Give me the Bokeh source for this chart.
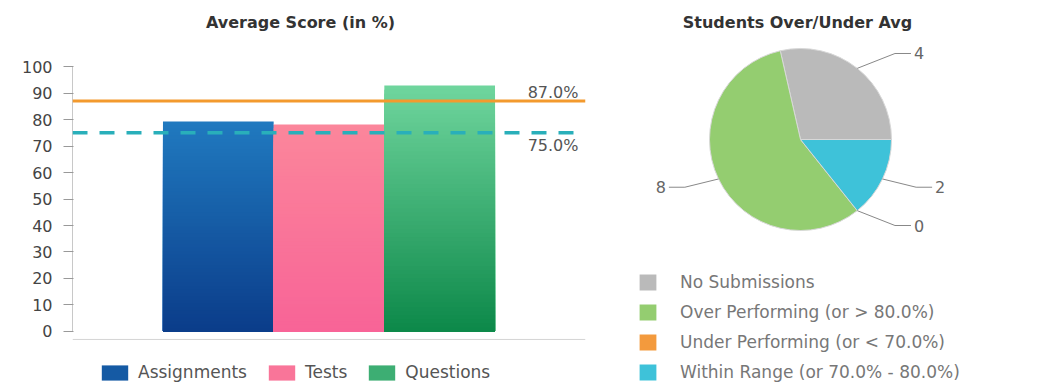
import numpy as np
from bokeh.plotting import figure
from bokeh.models import (ColumnDataSource, FactorRange, Range1d, Span, Label,
                          Legend, LegendItem, FixedTicker)
from bokeh.layouts import row
from bokeh.embed import file_html
from bokeh.resources import INLINE
from bokeh.core.properties import value

# ---------------- data ----------------
categories = ["Assignments", "Tests", "Questions"]
avg_scores = [79.2, 78.1, 92.8]
bar_top_colors = ["#2079bf", "#fb869b", "#6fd59d"]
bar_bottom_colors = ["#0b3d8a", "#f86497", "#0d894a"]
upper_line = 87.0
lower_line = 75.0
y_ticks = [0, 10, 20, 30, 40, 50, 60, 70, 80, 90, 100]

pie_labels = ["No Submissions", "Over Performing (or > 80.0%)",
              "Under Performing (or < 70.0%)", "Within Range (or 70.0% - 80.0%)"]
pie_counts = [4, 8, 0, 2]
pie_colors = ["#bababa", "#94cd70", "#f39a3d", "#3ec2d9"]

FONT = "DejaVu Sans"


def hex2rgb(h):
    return tuple(int(h[i:i + 2], 16) for i in (1, 3, 5))


def mix(c1, c2, t):
    a, b = hex2rgb(c1), hex2rgb(c2)
    return "#%02x%02x%02x" % tuple(int(round(a[i] + (b[i] - a[i]) * t)) for i in range(3))


# ---------------- bar chart ----------------
p = figure(width=608, height=389,
           x_range=FactorRange(factors=categories, range_padding=0.545,
                               range_padding_units="percent"),
           y_range=Range1d(-21.887, 124.906),
           output_backend="svg", toolbar_location=None,
           x_axis_location=None, title_location=None,
           min_border_left=72, min_border_right=23, min_border_top=0,
           min_border_bottom=0, outline_line_color=None)
p.xgrid.visible = False
p.ygrid.visible = False

N = 60
legend_items = []
for cat, score, ct, cb in zip(categories, avg_scores, bar_top_colors, bar_bottom_colors):
    k = np.arange(N)
    # layered bars: tallest first (top colour), shorter ones painted over it
    src = ColumnDataSource(dict(
        x=[cat] * N,
        top=score * (N - k) / N,
        color=[mix(ct, cb, i / (N - 1)) for i in k],
    ))
    r = p.vbar(x="x", bottom=0, top="top", width=1.0, fill_color="color",
               line_color=None, source=src)
    legend_items.append(LegendItem(label=cat, renderers=[r], index=N // 2))

# baseline (x axis line)
p.add_layout(Span(location=-3.0, dimension="width", line_color="#d4d4d4", line_width=1))

p.add_layout(Span(location=upper_line, dimension="width", line_color="#f39a2e",
                  line_width=3))
p.add_layout(Span(location=lower_line, dimension="width", line_color="#29afba",
                  line_width=3.5, line_dash="15 12"))

p.add_layout(Label(x=506, x_units="screen", y=upper_line, text=f"{upper_line:.1f}%",
                   text_align="right", text_baseline="alphabetic", y_offset=8,
                   text_font=FONT, text_font_size="16px", text_color="#555555"))
p.add_layout(Label(x=506, x_units="screen", y=lower_line, text=f"{lower_line:.1f}%",
                   text_align="right", text_baseline="alphabetic", y_offset=-13,
                   text_font=FONT, text_font_size="16px", text_color="#555555"))

p.add_layout(Label(x=228, y=367, x_units="screen", y_units="screen",
                   text="Average Score (in %)", text_align="center",
                   text_baseline="middle", text_font=FONT, text_font_style="bold",
                   text_font_size="16px", text_color="#333333"))

p.yaxis.ticker = FixedTicker(ticks=y_ticks)
p.yaxis.bounds = (0, 100)
p.yaxis.axis_line_color = "#c8c8c8"
p.yaxis.major_tick_line_color = "#999999"
p.yaxis.major_tick_in = 1
p.yaxis.major_tick_out = 9
p.yaxis.minor_tick_line_color = None
p.yaxis.major_label_standoff = 11
p.yaxis.major_label_text_font = FONT
p.yaxis.major_label_text_font_size = "16px"
p.yaxis.major_label_text_color = "#444444"

leg = Legend(items=legend_items, orientation="horizontal", location=(26, 7),
             glyph_width=33, glyph_height=19, label_height=19, label_standoff=7,
             spacing=18, padding=0, margin=0, border_line_color=None,
             background_fill_alpha=0, label_text_font=FONT,
             label_text_font_size="17px", label_text_color="#555555")
p.add_layout(leg)

# ---------------- pie chart ----------------
q = figure(width=452, height=389, x_range=Range1d(0, 452), y_range=Range1d(0, 389),
           output_backend="svg", toolbar_location=None,
           x_axis_location=None, y_axis_location=None, title_location=None,
           min_border=0, outline_line_color=None)
q.grid.visible = False

cx, cy, R = 192, 250, 91
counts = np.array(pie_counts, dtype=float)
fracs = counts / counts.sum() * 2 * np.pi
ends = np.cumsum(fracs)
starts = ends - fracs
nz = counts > 0
wsrc = ColumnDataSource(dict(start=starts[nz], end=ends[nz],
                             color=[c for c, k in zip(pie_colors, nz) if k]))
q.wedge(x=cx, y=cy, radius=R, start_angle="start", end_angle="end",
        fill_color="color", line_color="#d8d8d8", line_width=1, source=wsrc)

# legend swatches (no position on the chart)
lsrc = ColumnDataSource(dict(x=[np.nan] * len(pie_labels), y=[np.nan] * len(pie_labels),
                             color=pie_colors))
lr = q.rect(x="x", y="y", width=1, height=1, fill_color="color", line_color=None,
            source=lsrc)

mids = (starts + ends) / 2
xs, ys = [], []
rx, ry, rt, lx, ly, lt = [], [], [], [], [], []
for a, c in zip(mids, pie_counts):
    x0, y0 = cx + R * np.cos(a), cy + R * np.sin(a)
    ly_ = cy + 110 * np.sin(a)
    side = 1 if np.cos(a) >= 0 else -1
    xe = cx + side * np.sqrt(140 ** 2 - (110 * np.sin(a)) ** 2)
    xm = xe - side * 16
    xs.append([x0, xm, xe])
    ys.append([y0, ly_, ly_])
    if side > 0:
        rx.append(xe + 3); ry.append(ly_); rt.append(str(c))
    else:
        lx.append(xe - 3); ly.append(ly_); lt.append(str(c))

q.multi_line(xs=xs, ys=ys, line_color="#888888", line_width=1)
q.text(x=rx, y=ry, text=rt, text_align="left", text_baseline="middle",
       text_font=value(FONT), text_font_size="16px", text_color="#666666")
q.text(x=lx, y=ly, text=lt, text_align="right", text_baseline="middle",
       text_font=value(FONT), text_font_size="16px", text_color="#666666")

q.add_layout(Label(x=189, y=367, x_units="screen", y_units="screen",
                   text="Students Over/Under Avg", text_align="center",
                   text_baseline="middle", text_font=FONT, text_font_style="bold",
                   text_font_size="16px", text_color="#333333"))

pleg = Legend(items=[LegendItem(label=l, renderers=[lr], index=i)
                     for i, l in enumerate(pie_labels)],
              location=(29, 7), orientation="vertical",
              glyph_width=21, glyph_height=20, label_height=20, spacing=10,
              label_standoff=22, padding=0, margin=0, border_line_color=None,
              background_fill_alpha=0, label_text_font=FONT,
              label_text_font_size="17px", label_text_color="#777777")
q.add_layout(pleg)

layout = row(p, q)
open("out.html", "w").write(file_html(layout, INLINE))
